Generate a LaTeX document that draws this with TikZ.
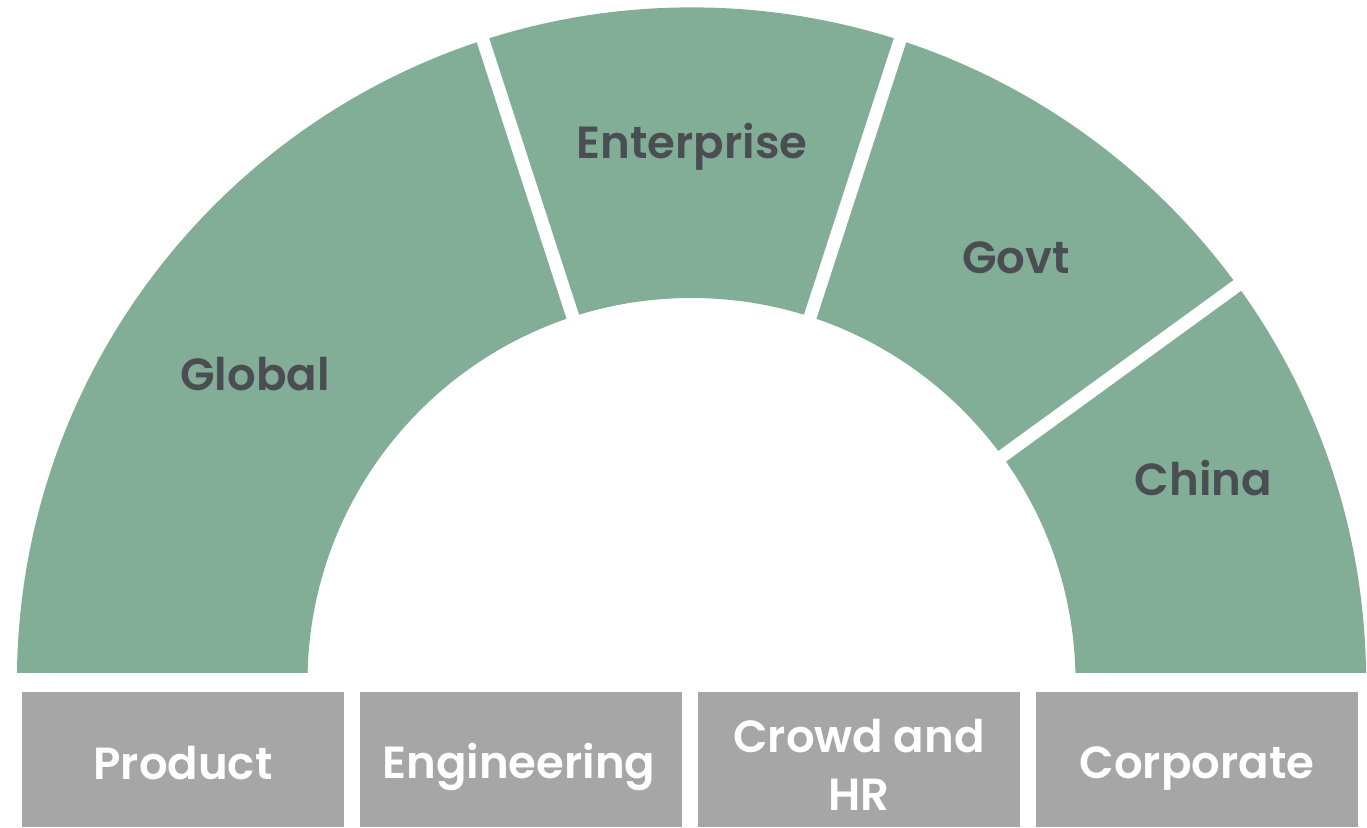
\documentclass[tikz,border=0pt]{standalone}
\usepackage{fontspec}
\setmainfont{Poppins}[BoldFont={Poppins SemiBold}]
\usetikzlibrary{calc}
\definecolor{segGreen}{HTML}{82AE97}
\definecolor{boxGray}{HTML}{A6A6A6}
\definecolor{labelDark}{HTML}{4A4D52}
\begin{document}
\begin{tikzpicture}[x=1pt,y=1pt,
  seglabel/.style={text=labelDark,font=\fontsize{45}{52}\selectfont\bfseries,inner sep=0pt,anchor=base},
  boxlabel/.style={text=white,font=\fontsize{45}{57.5}\selectfont\bfseries,align=center,inner sep=0pt,anchor=base},
  graybox/.style={fill=boxGray,draw=none},
  gapline/.style={white,line width=13pt}]
\useasboundingbox (0,0) rectangle (1367,827);
\coordinate (c) at (691.5,145);
\def\Ro{674.6}
\def\Ri{384}
\begin{scope}
  \clip (0,154) rectangle (1367,827);
  \fill[segGreen] ($(c)+(0:\Ro)$) arc (0:180:\Ro) -- ($(c)+(180:\Ri)$) arc (180:0:\Ri) -- cycle;
  \draw[gapline] ($(c)+(108:350)$) -- ($(c)+(108:700)$);
  \draw[gapline] ($(c)+(72:350)$) -- ($(c)+(72:700)$);
  \draw[gapline] ($(c)+(36:350)$) -- ($(c)+(36:700)$);
\end{scope}
\node[seglabel] (global) at (255,436) {Global};
\node[seglabel] (enterprise) at (692,668) {Enterprise};
\node[seglabel] (govt) at (1016,553) {Govt};
\node[seglabel] (china) at (1203.5,331) {China};
\fill[graybox] (22,0) rectangle (344,135);
\fill[graybox] (360,0) rectangle (682,135);
\fill[graybox] (698,0) rectangle (1020,135);
\fill[graybox] (1036,0) rectangle (1358,135);
\node[boxlabel] (product) at (183,48) {Product};
\node[boxlabel] (engineering) at (519,49) {Engineering};
\node[boxlabel] (crowd) at (859,75) {Crowd and};
\node[boxlabel] (crowd2) at (859,17) {HR};
\node[boxlabel] (corporate) at (1197,49) {Corporate};
\end{tikzpicture}
\end{document}
